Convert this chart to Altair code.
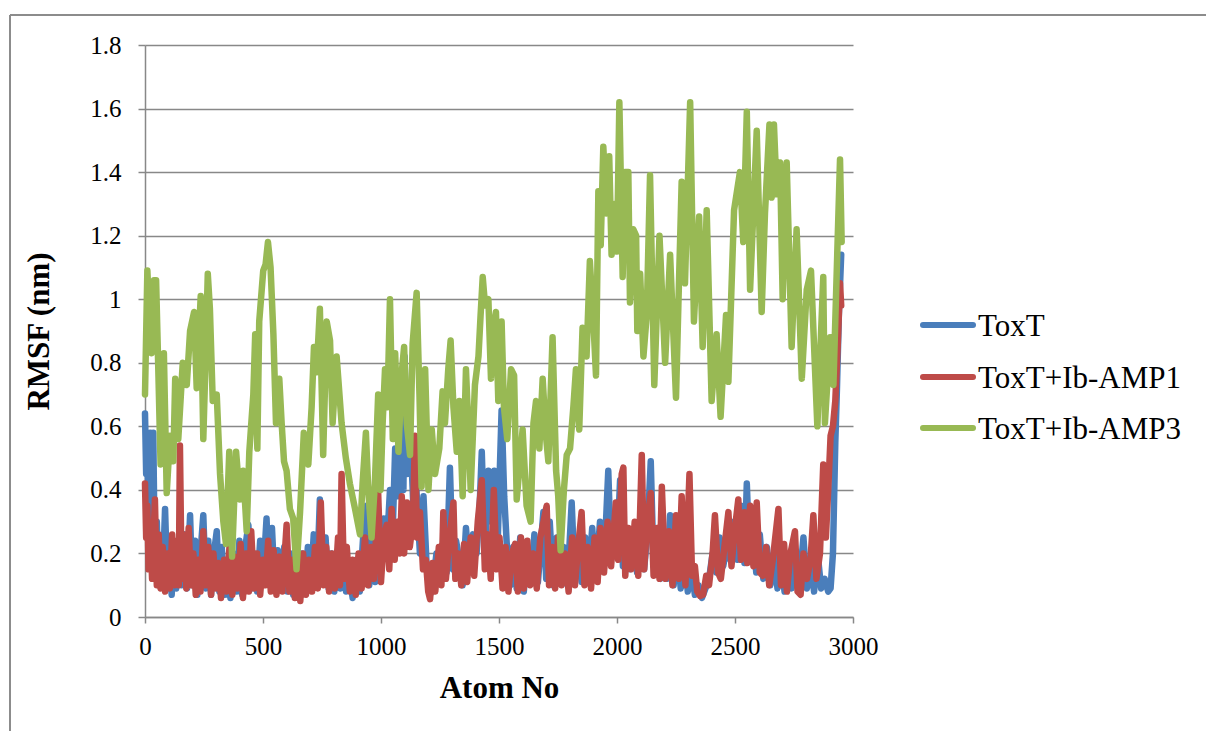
import altair as alt
import pandas as pd

series_names = ["ToxT", "ToxT+Ib-AMP1", "ToxT+Ib-AMP3"]
series_colors = ["#4A7EBB", "#BE4B48", "#98B954"]
x_ticks = [0, 500, 1000, 1500, 2000, 2500, 3000]
y_ticks = [0, 0.2, 0.4, 0.6, 0.8, 1.0, 1.2, 1.4, 1.6, 1.8]

# (atom number, RMSF nm)
toxt_points = [
    (0, 0.64), (5, 0.45), (10, 0.56), (15, 0.25), (22, 0.58), (28, 0.20), (35, 0.58), (42, 0.15),
    (50, 0.30), (58, 0.10), (66, 0.20), (75, 0.12), (85, 0.34), (95, 0.09), (105, 0.18), (113, 0.07),
    (122, 0.20), (132, 0.09), (145, 0.22), (155, 0.10), (168, 0.26), (178, 0.09), (191, 0.32), (200, 0.10),
    (212, 0.24), (222, 0.07), (235, 0.20), (247, 0.32), (258, 0.09), (268, 0.24), (280, 0.07), (292, 0.20),
    (304, 0.27), (315, 0.08), (325, 0.22), (338, 0.07), (350, 0.18), (362, 0.06), (375, 0.20), (388, 0.08),
    (400, 0.24), (412, 0.07), (425, 0.22), (438, 0.29), (450, 0.09), (462, 0.20), (475, 0.08), (488, 0.24),
    (500, 0.12), (515, 0.31), (525, 0.10), (538, 0.28), (550, 0.09), (562, 0.21), (575, 0.10), (590, 0.22),
    (603, 0.08), (616, 0.20), (628, 0.07), (640, 0.15), (652, 0.06), (665, 0.20), (678, 0.08), (690, 0.22),
    (702, 0.09), (715, 0.26), (728, 0.10), (741, 0.37), (752, 0.12), (765, 0.25), (778, 0.09), (790, 0.20),
    (802, 0.08), (815, 0.18), (828, 0.09), (840, 0.22), (852, 0.08), (868, 0.12), (880, 0.06), (895, 0.18),
    (910, 0.08), (925, 0.26), (939, 0.35), (950, 0.10), (962, 0.24), (975, 0.11), (988, 0.34), (1000, 0.20),
    (1012, 0.31), (1025, 0.22), (1038, 0.40), (1050, 0.28), (1060, 0.53), (1072, 0.38), (1085, 0.55),
    (1095, 0.40), (1100, 0.82), (1110, 0.45), (1125, 0.57), (1137, 0.35), (1150, 0.40), (1165, 0.20),
    (1180, 0.38), (1194, 0.15), (1208, 0.07), (1220, 0.10), (1235, 0.20), (1250, 0.12), (1265, 0.25),
    (1278, 0.14), (1292, 0.47), (1305, 0.15), (1318, 0.24), (1332, 0.18), (1346, 0.10), (1360, 0.28),
    (1375, 0.15), (1390, 0.26), (1405, 0.20), (1418, 0.35), (1427, 0.52), (1440, 0.20), (1455, 0.46),
    (1469, 0.30), (1480, 0.46), (1495, 0.25), (1511, 0.65), (1522, 0.38), (1535, 0.20), (1548, 0.10),
    (1560, 0.22), (1575, 0.09), (1590, 0.25), (1605, 0.08), (1620, 0.20), (1635, 0.12), (1650, 0.26),
    (1665, 0.11), (1688, 0.33), (1700, 0.12), (1715, 0.30), (1730, 0.10), (1745, 0.25), (1760, 0.12),
    (1775, 0.22), (1790, 0.10), (1808, 0.36), (1820, 0.14), (1835, 0.22), (1850, 0.11), (1865, 0.25),
    (1880, 0.13), (1895, 0.28), (1910, 0.12), (1928, 0.30), (1945, 0.16), (1963, 0.46), (1975, 0.18),
    (1990, 0.30), (2000, 0.20), (2013, 0.43), (2025, 0.16), (2040, 0.28), (2055, 0.15), (2070, 0.26),
    (2085, 0.14), (2100, 0.30), (2115, 0.15), (2130, 0.28), (2143, 0.49), (2155, 0.16), (2170, 0.26),
    (2185, 0.12), (2200, 0.24), (2212, 0.12), (2225, 0.32), (2240, 0.10), (2255, 0.22), (2270, 0.09),
    (2285, 0.20), (2300, 0.08), (2315, 0.16), (2330, 0.07), (2345, 0.10), (2360, 0.06), (2375, 0.09),
    (2390, 0.12), (2405, 0.20), (2420, 0.14), (2435, 0.25), (2450, 0.16), (2465, 0.22), (2480, 0.18),
    (2495, 0.30), (2510, 0.18), (2525, 0.35), (2540, 0.17), (2550, 0.42), (2562, 0.18), (2575, 0.30),
    (2590, 0.14), (2605, 0.26), (2620, 0.12), (2635, 0.22), (2650, 0.10), (2665, 0.20), (2680, 0.09),
    (2695, 0.18), (2710, 0.08), (2725, 0.16), (2740, 0.09), (2755, 0.20), (2770, 0.08), (2790, 0.25),
    (2805, 0.09), (2820, 0.18), (2835, 0.08), (2850, 0.20), (2865, 0.09), (2880, 0.12), (2895, 0.08),
    (2905, 0.09), (2915, 0.20), (2925, 0.55), (2932, 0.72), (2940, 0.95), (2950, 1.14),
]

amp1_points = [
    (0, 0.42), (5, 0.25), (10, 0.35), (15, 0.15), (22, 0.30), (30, 0.12), (42, 0.37), (50, 0.10),
    (58, 0.26), (66, 0.09), (75, 0.22), (85, 0.08), (95, 0.20), (105, 0.09), (115, 0.26), (125, 0.10),
    (135, 0.24), (143, 0.10), (148, 0.54), (155, 0.12), (165, 0.26), (175, 0.09), (185, 0.28), (195, 0.10),
    (205, 0.20), (215, 0.07), (225, 0.18), (235, 0.08), (247, 0.27), (258, 0.10), (268, 0.22), (280, 0.07),
    (290, 0.20), (300, 0.09), (312, 0.17), (322, 0.06), (335, 0.18), (345, 0.08), (358, 0.22), (370, 0.07),
    (380, 0.19), (392, 0.09), (405, 0.23), (415, 0.06), (428, 0.20), (440, 0.08), (450, 0.27), (462, 0.09),
    (475, 0.20), (488, 0.07), (500, 0.18), (510, 0.10), (522, 0.24), (533, 0.08), (545, 0.21), (557, 0.07),
    (570, 0.19), (582, 0.08), (600, 0.29), (612, 0.08), (625, 0.18), (635, 0.06), (648, 0.17), (658, 0.05),
    (670, 0.20), (682, 0.07), (695, 0.18), (708, 0.08), (720, 0.22), (732, 0.09), (745, 0.36), (756, 0.10),
    (768, 0.22), (780, 0.08), (792, 0.20), (805, 0.09), (818, 0.25), (826, 0.10), (833, 0.45), (843, 0.12),
    (855, 0.22), (868, 0.08), (880, 0.18), (893, 0.07), (905, 0.20), (918, 0.09), (932, 0.25), (945, 0.10),
    (958, 0.22), (970, 0.12), (988, 0.39), (1000, 0.11), (1012, 0.25), (1024, 0.29), (1035, 0.15),
    (1045, 0.34), (1058, 0.18), (1070, 0.30), (1080, 0.20), (1088, 0.38), (1098, 0.20), (1110, 0.36),
    (1122, 0.22), (1135, 0.30), (1144, 0.57), (1152, 0.25), (1165, 0.33), (1178, 0.15), (1190, 0.18),
    (1200, 0.08), (1208, 0.056), (1218, 0.17), (1230, 0.08), (1245, 0.22), (1256, 0.10), (1264, 0.33),
    (1275, 0.12), (1290, 0.25), (1307, 0.36), (1315, 0.12), (1328, 0.20), (1340, 0.10), (1352, 0.23),
    (1365, 0.11), (1380, 0.25), (1395, 0.13), (1410, 0.30), (1427, 0.43), (1440, 0.15), (1452, 0.26),
    (1465, 0.12), (1478, 0.40), (1490, 0.15), (1502, 0.25), (1515, 0.09), (1528, 0.22), (1540, 0.08),
    (1555, 0.20), (1568, 0.23), (1580, 0.08), (1593, 0.25), (1605, 0.09), (1620, 0.24), (1632, 0.10),
    (1645, 0.20), (1660, 0.09), (1675, 0.25), (1702, 0.35), (1712, 0.10), (1725, 0.22), (1738, 0.09),
    (1750, 0.25), (1765, 0.10), (1780, 0.20), (1795, 0.08), (1810, 0.25), (1822, 0.10), (1835, 0.22),
    (1850, 0.33), (1862, 0.10), (1875, 0.22), (1890, 0.09), (1905, 0.25), (1918, 0.11), (1930, 0.28),
    (1945, 0.14), (1960, 0.30), (1975, 0.16), (1995, 0.36), (2005, 0.18), (2020, 0.45), (2027, 0.47),
    (2035, 0.13), (2048, 0.28), (2060, 0.15), (2075, 0.30), (2090, 0.13), (2105, 0.51), (2115, 0.15),
    (2128, 0.30), (2143, 0.39), (2155, 0.13), (2170, 0.28), (2180, 0.12), (2190, 0.41), (2205, 0.12),
    (2220, 0.27), (2235, 0.10), (2250, 0.32), (2262, 0.12), (2274, 0.38), (2290, 0.10), (2307, 0.45),
    (2318, 0.13), (2330, 0.16), (2340, 0.08), (2352, 0.066), (2365, 0.07), (2378, 0.13), (2390, 0.10),
    (2405, 0.20), (2415, 0.32), (2428, 0.14), (2440, 0.12), (2455, 0.22), (2472, 0.33), (2485, 0.16),
    (2500, 0.28), (2514, 0.37), (2525, 0.18), (2540, 0.33), (2552, 0.17), (2564, 0.35), (2578, 0.16),
    (2592, 0.36), (2605, 0.14), (2618, 0.13), (2632, 0.22), (2645, 0.10), (2660, 0.18), (2684, 0.34),
    (2695, 0.10), (2708, 0.23), (2720, 0.08), (2735, 0.20), (2754, 0.27), (2765, 0.08), (2778, 0.07),
    (2790, 0.20), (2805, 0.12), (2820, 0.18), (2832, 0.32), (2845, 0.12), (2860, 0.20), (2874, 0.48),
    (2885, 0.25), (2895, 0.40), (2905, 0.57), (2915, 0.60), (2925, 0.68), (2935, 0.85), (2945, 1.05),
    (2950, 0.98),
]

amp3_points = [
    (0, 0.70), (10, 1.09), (21, 0.90), (28, 0.83), (38, 1.06), (47, 1.06), (56, 0.79), (66, 0.48),
    (80, 0.83), (92, 0.39), (106, 0.57), (120, 0.49), (128, 0.75), (141, 0.56), (160, 0.80), (177, 0.73),
    (191, 0.90), (208, 0.96), (219, 0.72), (236, 1.01), (247, 0.56), (257, 0.82), (266, 1.08), (275, 0.97),
    (287, 0.68), (304, 0.70), (318, 0.45), (332, 0.30), (343, 0.23), (357, 0.52), (369, 0.19), (386, 0.52),
    (402, 0.37), (416, 0.46), (431, 0.27), (442, 0.52), (459, 0.70), (467, 0.89), (476, 0.53), (484, 0.93),
    (501, 1.09), (511, 1.11), (521, 1.18), (532, 1.10), (544, 0.89), (555, 0.61), (569, 0.75), (579, 0.61),
    (589, 0.49), (600, 0.46), (614, 0.34), (628, 0.31), (642, 0.15), (657, 0.33), (673, 0.58), (692, 0.48),
    (706, 0.66), (716, 0.85), (727, 0.77), (741, 0.97), (755, 0.51), (770, 0.93), (784, 0.87), (795, 0.61),
    (812, 0.82), (833, 0.61), (851, 0.50), (868, 0.42), (890, 0.34), (911, 0.26), (922, 0.42), (936, 0.58),
    (946, 0.40), (960, 0.25), (974, 0.42), (988, 0.70), (998, 0.40), (1007, 0.61), (1017, 0.78),
    (1027, 0.66), (1038, 1.00), (1050, 0.56), (1060, 0.83), (1074, 0.52), (1088, 0.77), (1098, 0.85),
    (1109, 0.61), (1123, 0.51), (1134, 0.86), (1151, 1.02), (1163, 0.70), (1172, 0.41), (1187, 0.78),
    (1201, 0.40), (1215, 0.59), (1229, 0.45), (1247, 0.53), (1261, 0.71), (1271, 0.61), (1285, 0.78),
    (1295, 0.87), (1307, 0.66), (1321, 0.52), (1332, 0.68), (1346, 0.38), (1360, 0.78), (1370, 0.60),
    (1380, 0.40), (1398, 0.73), (1413, 0.82), (1422, 0.95), (1431, 1.07), (1441, 0.98), (1455, 1.00),
    (1466, 0.75), (1476, 0.91), (1487, 0.96), (1497, 0.68), (1511, 0.93), (1521, 0.66), (1535, 0.56),
    (1551, 0.78), (1564, 0.76), (1575, 0.37), (1589, 0.49), (1600, 0.59), (1617, 0.35), (1634, 0.30),
    (1646, 0.61), (1657, 0.68), (1671, 0.53), (1685, 0.75), (1699, 0.57), (1709, 0.49), (1727, 0.88),
    (1742, 0.46), (1751, 0.38), (1761, 0.21), (1775, 0.40), (1787, 0.51), (1801, 0.53), (1815, 0.66),
    (1826, 0.78), (1840, 0.59), (1854, 0.91), (1871, 0.82), (1885, 1.12), (1900, 0.93), (1911, 0.76),
    (1921, 1.34), (1931, 1.17), (1942, 1.48), (1955, 1.27), (1967, 1.45), (1977, 1.14), (1990, 1.30),
    (2000, 1.15), (2010, 1.62), (2024, 1.07), (2034, 1.40), (2048, 1.40), (2055, 0.99), (2069, 1.22),
    (2081, 1.20), (2086, 0.90), (2098, 1.08), (2112, 0.82), (2126, 0.95), (2140, 1.39), (2158, 0.73),
    (2180, 1.20), (2204, 0.80), (2225, 1.14), (2250, 0.69), (2260, 0.98), (2274, 1.37), (2288, 1.05),
    (2310, 1.62), (2326, 0.93), (2348, 1.26), (2363, 0.85), (2380, 1.28), (2401, 0.68), (2422, 0.89),
    (2439, 0.63), (2462, 0.95), (2472, 0.74), (2496, 1.28), (2521, 1.40), (2535, 1.18), (2550, 1.59),
    (2564, 1.03), (2592, 1.53), (2613, 0.96), (2627, 1.27), (2646, 1.55), (2655, 1.32), (2665, 1.55),
    (2677, 1.33), (2691, 1.43), (2702, 1.00), (2719, 1.43), (2740, 0.85), (2761, 1.22), (2783, 0.75),
    (2804, 1.03), (2822, 1.09), (2849, 0.60), (2874, 1.07), (2881, 0.61), (2903, 0.88), (2917, 0.73),
    (2945, 1.44), (2952, 1.18),
]

all_points = [toxt_points, amp1_points, amp3_points]

FONT = "Liberation Serif"
LABEL_FONT = "'Liberation Serif', 'Times New Roman', serif"
GRID = "#888888"

x_enc = alt.X(
    "atom:Q",
    scale=alt.Scale(domain=[0, 3000], nice=False, zero=False),
    axis=alt.Axis(
        values=x_ticks, format="d", title="Atom No", grid=False,
        labelFont=LABEL_FONT, labelFontSize=25, labelColor="black",
        labelBaseline="alphabetic", labelPadding=31, labelFlush=False, labelOverlap=False,
        tickSize=6, tickColor=GRID, tickWidth=1.5,
        domainColor=GRID, domainWidth=1.5,
        titleFont=FONT, titleFontSize=31, titleFontWeight="bold", titleColor="black",
        titleBaseline="alphabetic", titleY=80,
    ),
)
y_enc = alt.Y(
    "rmsf:Q",
    scale=alt.Scale(domain=[0, 1.8], nice=False),
    axis=alt.Axis(
        values=y_ticks, format=".1~f", title="RMSF (nm)", grid=True,
        gridColor=GRID, gridWidth=1.5,
        labelFont=LABEL_FONT, labelFontSize=25, labelColor="black", labelPadding=17,
        tickSize=7, tickColor=GRID, tickWidth=1.5,
        domainColor=GRID, domainWidth=1.5,
        titleFont=FONT, titleFontSize=31, titleFontWeight="bold", titleColor="black",
        titleBaseline="alphabetic", titleAlign="center", titleX=-97, titleY=286,
    ),
)

layers = []
for name, color, pts in zip(series_names, series_colors, all_points):
    df = pd.DataFrame(pts, columns=["atom", "rmsf"])
    df["series"] = name
    layers.append(
        alt.Chart(df).mark_line(
            strokeWidth=6.5, strokeJoin="round", strokeCap="round", color=color
        ).encode(x=x_enc, y=y_enc)
    )

one = pd.DataFrame({"k": [0]})
# outer frame (left and top edges visible)
layers.append(
    alt.Chart(one).mark_rule(color="#8c8c8c", strokeWidth=2).encode(
        x=alt.value(-135), y=alt.value(-30), y2=alt.value(690)
    )
)
layers.append(
    alt.Chart(one).mark_rule(color="#8c8c8c", strokeWidth=2).encode(
        x=alt.value(-135), x2=alt.value(1065), y=alt.value(-30)
    )
)

# legend
legend_y = [280, 332, 383]
for name, color, ly in zip(series_names, series_colors, legend_y):
    ldf = pd.DataFrame({"name": [name]})
    layers.append(
        alt.Chart(ldf).mark_rule(color=color, strokeWidth=6, strokeCap="round").encode(
            x=alt.value(778), x2=alt.value(828), y=alt.value(ly)
        )
    )
    layers.append(
        alt.Chart(ldf).mark_text(
            align="left", baseline="alphabetic", font=FONT, fontSize=31, color="black"
        ).encode(x=alt.value(833), y=alt.value(ly + 11), text="name:N")
    )

chart = alt.layer(*layers).properties(
    width=708, height=572,
    autosize=alt.AutoSizeParams(type="none"),
    padding={"left": 145, "top": 45, "right": 353, "bottom": 114},
    background="white",
).configure_view(stroke=None).configure_axisX(
    labelFont=LABEL_FONT
).configure_axisY(
    labelFont=LABEL_FONT
)

chart.save("out.html", embed_options={"renderer": "svg", "actions": False})
